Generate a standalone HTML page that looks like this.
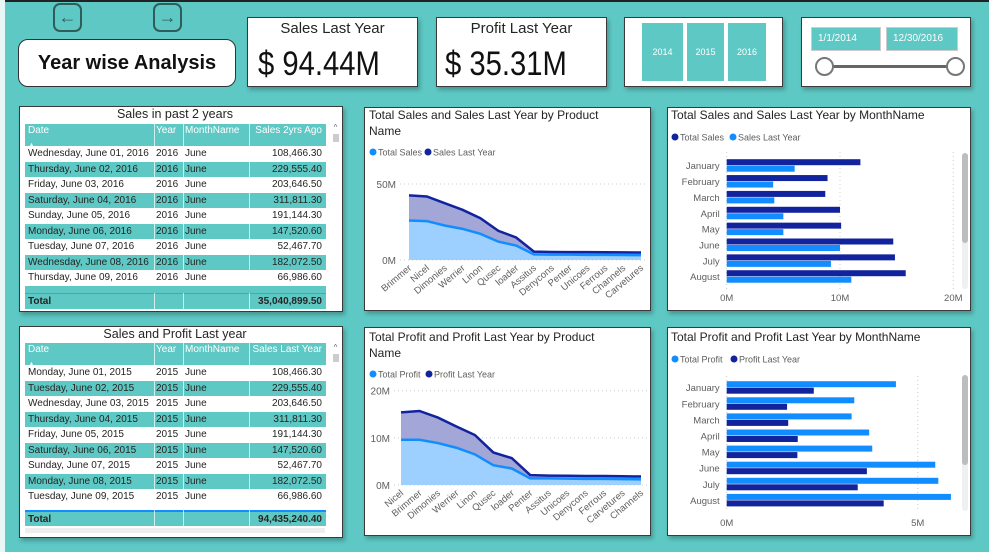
<!DOCTYPE html>
<html><head><meta charset="utf-8">
<style>
*{box-sizing:border-box;margin:0;padding:0}
body{width:989px;height:552px;overflow:hidden;background:#5ec8c4;font-family:"Liberation Sans",sans-serif;position:relative}
.abs{position:absolute}
.panel{position:absolute;background:#fff;border:1px solid #3a3a3a;box-shadow:2px 3px 4px rgba(0,0,0,.25)}
.card-t{position:absolute;width:100%;text-align:center;font-size:15px;color:#252423}
.card-v{position:absolute;font-size:34px;color:#111;transform:scaleX(.86);transform-origin:left}
.ybtn{position:absolute;top:5px;height:58px;background:#5ec8c4;color:#fff;font-size:9px;display:flex;align-items:center;justify-content:center}
.row{position:absolute;left:5px;width:301px;height:15.5px;font-size:10px;color:#252423;line-height:15.5px}
.row span{position:absolute;top:0}
.t{background:#5ec8c4}
.hdr{color:#fff;font-size:10px}
</style></head><body>
<div class="abs" style="left:0;top:0;width:989px;height:2px;background:#222"></div>
<div class="abs" style="left:0;top:0;width:5px;height:552px;background:#e8f6f5"></div>

<div class="abs" style="left:53px;top:3px;width:29px;height:29px;border:2px solid #2f5d5b;border-radius:7px;color:#2f5d5b;font-size:18px;text-align:center;line-height:24px">&#8592;</div>
<div class="abs" style="left:153px;top:3px;width:29px;height:29px;border:2px solid #2f5d5b;border-radius:7px;color:#2f5d5b;font-size:18px;text-align:center;line-height:24px">&#8594;</div>

<div class="abs" style="left:18px;top:39px;width:218px;height:48px;background:#fff;border:1px solid #333;border-radius:10px;text-align:center;line-height:46px;font-size:20px;font-weight:bold;color:#111">Year wise Analysis</div>

<div class="panel" style="left:247px;top:17px;width:171px;height:70px">
 <div class="card-t" style="top:2px">Sales Last Year</div>
 <div class="card-v" style="left:10px;top:27px">$ 94.44M</div>
</div>
<div class="panel" style="left:436px;top:17px;width:171px;height:70px">
 <div class="card-t" style="top:2px">Profit Last Year</div>
 <div class="card-v" style="left:8px;top:27px">$ 35.31M</div>
</div>
<div class="panel" style="left:624px;top:17px;width:159px;height:70px">
 <div class="ybtn" style="left:17px;width:41px">2014</div>
 <div class="ybtn" style="left:62px;width:37px">2015</div>
 <div class="ybtn" style="left:103px;width:38px">2016</div>
</div>
<div class="panel" style="left:801px;top:17px;width:170px;height:70px">
 <div class="abs" style="left:9px;top:9px;width:70px;height:24px;background:#5ec8c4;border:1px solid #ccc;color:#fff;font-size:10px;line-height:22px;padding-left:6px">1/1/2014</div>
 <div class="abs" style="left:84px;top:9px;width:72px;height:24px;background:#5ec8c4;border:1px solid #ccc;color:#fff;font-size:10px;line-height:22px;padding-left:6px">12/30/2016</div>
 <div class="abs" style="left:22px;top:47px;width:131px;height:3px;background:#666"></div>
 <div class="abs" style="left:13px;top:39px;width:19px;height:19px;border:2px solid #777;border-radius:50%;background:#fff"></div>
 <div class="abs" style="left:144px;top:39px;width:19px;height:19px;border:2px solid #777;border-radius:50%;background:#fff"></div>
</div>

<div class="panel" id="tbl1" style="left:19px;top:106px;width:324px;height:206px"></div>
<div class="panel" id="tbl2" style="left:19px;top:326px;width:324px;height:212px"></div>

<div class="panel" style="left:364px;top:107px;width:287px;height:204px"></div>
<div class="panel" style="left:364px;top:327px;width:287px;height:209px"></div>
<div class="panel" style="left:667px;top:107px;width:304px;height:204px"></div>
<div class="panel" style="left:667px;top:327px;width:304px;height:209px"></div>

<svg id="ov" class="abs" style="left:0;top:0" width="989" height="552" xmlns="http://www.w3.org/2000/svg" font-family="Liberation Sans, sans-serif"></svg>

<script>
// ===== data =====
const dates16=["Wednesday, June 01, 2016","Thursday, June 02, 2016","Friday, June 03, 2016","Saturday, June 04, 2016","Sunday, June 05, 2016","Monday, June 06, 2016","Tuesday, June 07, 2016","Wednesday, June 08, 2016","Thursday, June 09, 2016"];
const dates15=["Monday, June 01, 2015","Tuesday, June 02, 2015","Wednesday, June 03, 2015","Thursday, June 04, 2015","Friday, June 05, 2015","Saturday, June 06, 2015","Sunday, June 07, 2015","Monday, June 08, 2015","Tuesday, June 09, 2015"];
const dayValues=["108,466.30","229,555.40","203,646.50","311,811.30","191,144.30","147,520.60","52,467.70","182,072.50","66,986.60"];

const prod1=["Brimmer","Nicel","Dimonies","Werrier","Linon","Qusec","loader","Assitus","Denycons","Penter","Unicoes","Ferrous","Channels","Carvetures"];
const totalSales=[26,25.6,22.7,20.5,17.2,12.1,9.5,3.7,3.5,3.5,3.4,3.4,3.3,3.2];
const salesLY=[42.5,41.8,37.4,33,27.5,19.2,14.8,5.5,5.3,5.2,5.2,5.1,5,4.9];
const prod2=["Nicel","Brimmer","Dimonies","Werrier","Linon","Qusec","loader","Penter","Assitus","Unicoes","Denycons","Ferrous","Carvetures","Channels"];
const totalProfit=[9.6,9.6,8.9,7.9,6.5,4.2,3.5,1.4,1.4,1.35,1.3,1.3,1.25,1.2];
const profitLY=[15.4,15.7,14.3,12.4,10.6,6.9,5.7,2.1,2.0,1.95,1.9,1.9,1.85,1.8];

const months=["January","February","March","April","May","June","July","August"];
const mTotalSales=[11.8,8.9,8.7,10.0,10.1,14.7,14.85,15.8];
const mSalesLY=[6.0,4.1,4.2,5.0,5.0,10.0,9.2,11.0];
const mTotalProfit=[4.43,3.34,3.27,3.73,3.81,5.46,5.54,5.87];
const mProfitLY=[2.28,1.58,1.61,1.86,1.85,3.67,3.43,4.11];

const ticks1=[0,50], ticks2=[0,10,20], ticks3=[0,10,20], ticks4=[0,5];

const NS="http://www.w3.org/2000/svg";
const ov=document.getElementById('ov');
function mk(tag,attrs,parent,txt){const e=document.createElementNS(NS,tag);for(const k in attrs)e.setAttribute(k,attrs[k]);if(txt!==undefined)e.textContent=txt;(parent||ov).appendChild(e);return e;}

// ===== tables =====
function table(id,title,dates,year,lastCol,hTop){
  const p=document.getElementById(id);
  const t=document.createElement('div');t.style.cssText='position:absolute;left:0;top:0px;width:310px;text-align:center;font-size:12.5px;color:#252423';t.textContent=title;
  
  
  p.appendChild(t);
  const h=document.createElement('div');h.className='row t hdr';h.style.top=hTop+'px';h.style.height='22px';
  
  
  h.innerHTML='<span style="left:3px">Date<br><span style="position:static;font-size:7px">&#9650;</span></span><span style="left:131px">Year</span><span style="left:160px">MonthName</span><span style="right:4px">'+lastCol+'</span>';
  h.style.lineHeight='14px';h.style.paddingTop='2px';
  p.appendChild(h);
  dates.forEach((d,i)=>{
    const r=document.createElement('div');r.className='row'+(i%2?' t':'');r.style.top=(hTop+22+i*15.5)+'px';
    
    
    r.innerHTML='<span style="left:3px">'+d+'</span><span style="left:131px">'+year+'</span><span style="left:160px">June</span><span style="right:4px">'+dayValues[i]+'</span>';
    p.appendChild(r);
  });
  ['134px','163px','229px'].forEach(l=>{const d=document.createElement('div');d.style.cssText='position:absolute;top:'+hTop+'px;left:'+l+';width:1px;height:'+(dates.length*15.5+22)+'px;background:rgba(255,255,255,.7)';p.appendChild(d);});
  return p;
}
const p1=table('tbl1','Sales in past 2 years',dates16,2016,'Sales 2yrs Ago',17);
const p2=table('tbl2','Sales and Profit Last year',dates15,2015,'Sales Last Year',16);
function totalRow(p,top,val,blue){
  const r=document.createElement('div');r.className='row t';r.style.top=top+'px';r.style.fontWeight='bold';r.style.height='16px';
  if(blue)r.style.borderTop='2px solid #118dff';else r.style.borderTop='1px solid #4aa';
  
  
  r.innerHTML='<span style="left:3px">Total</span><span style="right:4px">'+val+'</span>';
  p.appendChild(r);
  ['134px','163px','229px'].forEach(l=>{const d=document.createElement('div');d.style.cssText='position:absolute;top:'+top+'px;left:'+l+';width:1px;height:16px;background:rgba(255,255,255,.7)';p.appendChild(d);});
}
{const r=document.createElement('div');r.className='row t';r.style.top=(17+22+9*15.5)+'px';r.style.height='7px';p1.appendChild(r);}
totalRow(p1,186,'35,040,899.50',false);
totalRow(p2,183,'94,435,240.40',true);
[[p1,16,186],[p2,16,178]].forEach(([p,t,h])=>{
  const s=document.createElement('div');s.style.cssText='position:absolute;left:311px;top:'+t+'px;width:9px;height:'+h+'px;font-size:8px;color:#666;text-align:center';
  
  
  s.innerHTML='^<div style="margin:2px auto;width:6px;height:8px;background:#ccc"></div>';p.appendChild(s);});
{const s=document.createElement('div');s.style.cssText='position:absolute;left:5px;top:201px;width:300px;height:5px;background:#eee';
 
 
 p2.appendChild(s);}

// ===== area charts =====
function areaChart(o){
  const n=o.cats.length, step=(o.x1-o.x0)/(n-1);
  const X=i=>o.x0+i*step, Y=v=>o.y0-v*o.ppm;
  mk('text',{x:o.tx,y:o.ty,'font-size':12,fill:'#252423'},ov,o.title1);
  mk('text',{x:o.tx,y:o.ty+16,'font-size':12,fill:'#252423'},ov,'Name');
  const lg=mk('g',{});
  mk('circle',{cx:o.tx+4,cy:o.ly,r:3.5,fill:'#118dff'},lg);
  mk('text',{x:o.tx+9,y:o.ly+3.5,'font-size':9,fill:'#605e5c'},lg,o.l1);
  mk('circle',{cx:o.tx+4+o.l2x,cy:o.ly,r:3.5,fill:'#12239e'},lg);
  mk('text',{x:o.tx+9+o.l2x,y:o.ly+3.5,'font-size':9,fill:'#605e5c'},lg,o.l2);
  o.ticks.forEach(t=>{
    mk('line',{x1:o.gx,x2:o.x1+6,y1:Y(t),y2:Y(t),stroke:'#ccc','stroke-dasharray':'1,3'});
    mk('text',{x:o.gx-4,y:Y(t)+4,'font-size':10,fill:'#605e5c','text-anchor':'end'},ov,t+'M');
  });
  const pts=a=>a.map((v,i)=>X(i)+','+Y(v)).join(' ');
  const base=X(n-1)+','+o.y0+' '+X(0)+','+o.y0;
  const a2=mk('polygon',{points:pts(o.dark)+' '+base,fill:'#a3a7d8'});
  
  
  const a1=mk('polygon',{points:pts(o.light)+' '+base,fill:'#9dcfff'});
  
  
  const l2=mk('polyline',{points:pts(o.dark),fill:'none',stroke:'#12239e','stroke-width':2.5});
  
  
  const l1=mk('polyline',{points:pts(o.light),fill:'none',stroke:'#118dff','stroke-width':2.5});
  
  
  o.cats.forEach((c,i)=>{
    const x=X(i)+3,y=o.y0+9;
    const t=mk('text',{x:x,y:y,'font-size':9.5,fill:'#605e5c','text-anchor':'end',transform:'rotate(-40 '+x+' '+y+')'},ov,c);
    
    
  });
}
areaChart({cats:prod1,light:totalSales,dark:salesLY,x0:409,x1:641,y0:260,ppm:76/50,ticks:ticks1,gx:400,tx:369,ty:119,ly:152,
  title1:'Total Sales and Sales Last Year by Product',l1:'Total Sales',l2:'Sales Last Year',l2x:55});
areaChart({cats:prod2,light:totalProfit,dark:profitLY,x0:401,x1:641,y0:485,ppm:94.3/20,ticks:ticks2,gx:394,tx:369,ty:341,ly:374,
  title1:'Total Profit and Profit Last Year by Product',l1:'Total Profit',l2:'Profit Last Year',l2x:56});

// ===== bar charts =====
function barChart(o){
  const X=v=>o.x0+v*o.ppm;
  mk('text',{x:o.tx,y:o.ty,'font-size':12,fill:'#252423'},ov,o.title);
  const lg=mk('g',{});
  mk('circle',{cx:o.tx+4,cy:o.ly,r:3.5,fill:o.c1},lg);
  mk('text',{x:o.tx+9,y:o.ly+3.5,'font-size':9,fill:'#605e5c'},lg,o.l1);
  mk('circle',{cx:o.tx+4+o.l2x,cy:o.ly,r:3.5,fill:o.c2},lg);
  mk('text',{x:o.tx+9+o.l2x,y:o.ly+3.5,'font-size':9,fill:'#605e5c'},lg,o.l2);
  o.ticks.forEach(t=>{
    mk('line',{x1:X(t),x2:X(t),y1:o.yTop,y2:o.yBot,stroke:'#ccc','stroke-dasharray':'1,3'});
    mk('text',{x:X(t),y:o.axY,'font-size':9.5,fill:'#605e5c','text-anchor':'middle'},ov,t+'M');
  });
  o.cats.forEach((c,i)=>{
    const cy=o.c0+i*o.step;
    mk('text',{x:o.x0-7,y:cy+3.5,'font-size':9.5,fill:'#605e5c','text-anchor':'end'},ov,c);
    const b1=mk('rect',{x:o.x0,y:cy-6.5,width:X(o.s1[i])-o.x0,height:6,fill:o.c1});
    
    
    const b2=mk('rect',{x:o.x0,y:cy,width:X(o.s2[i])-o.x0,height:6,fill:o.c2});
    
    
  });
  mk('rect',{x:962,y:o.sb,width:6,height:136,rx:3,fill:'#f0f0f0'});
  mk('rect',{x:962,y:o.sb,width:6,height:90,rx:3,fill:'#bdbdbd'});
}
barChart({cats:months,s1:mTotalSales,s2:mSalesLY,c1:'#12239e',c2:'#118dff',x0:726.7,ppm:11.33,ticks:ticks3,
  c0:165.7,step:15.86,yTop:152,yBot:290,axY:301,tx:671,ty:119,ly:137,title:'Total Sales and Sales Last Year by MonthName',
  l1:'Total Sales',l2:'Sales Last Year',l2x:58,sb:153});
barChart({cats:months,s1:mTotalProfit,s2:mProfitLY,c1:'#118dff',c2:'#12239e',x0:726.7,ppm:38.2,ticks:ticks4,
  c0:387.7,step:16.1,yTop:376,yBot:510,axY:526,tx:671,ty:341,ly:359,title:'Total Profit and Profit Last Year by MonthName',
  l1:'Total Profit',l2:'Profit Last Year',l2x:59,sb:375});
</script>
</body></html>
